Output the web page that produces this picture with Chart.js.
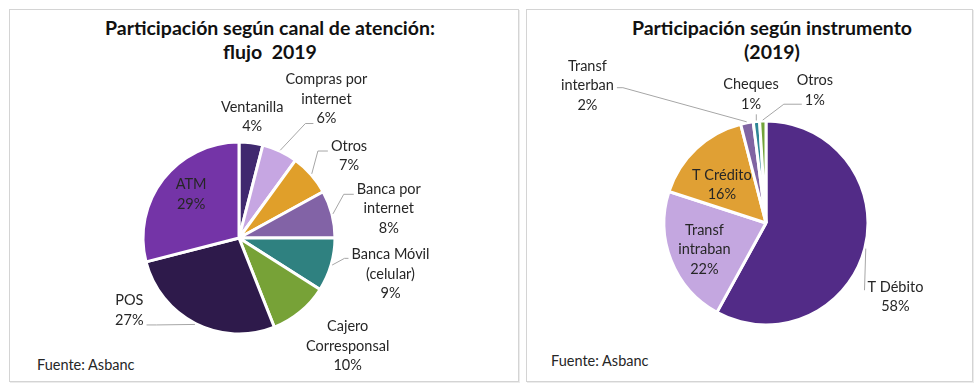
<!DOCTYPE html>
<html>
<head>
<meta charset="utf-8">
<script src="https://cdn.jsdelivr.net/npm/chart.js@4/dist/chart.umd.min.js"></script>
<style>
  body { margin: 0; background: #fff; width: 980px; height: 391px; position: relative; overflow: hidden; font-family: Lato, "Noto Sans", sans-serif; color: #262626; }
  .box { position: absolute; border: 1px solid #d4d4d4; box-shadow: 1px 1px 0 #ececec; }
  .title { position: absolute; width: 440px; text-align: center; font-weight: bold; font-size: 19.5px; line-height: 24px; color: #111; }
  .src { position: absolute; font-size: 14.5px; line-height: 18px; color: #262626; }
  canvas { position: absolute; }
</style>
</head>
<body>
<div class="box" style="left:9px; top:9px; width:508px; height:371px;"></div>
<div class="box" style="left:526px; top:9px; width:445px; height:371px;"></div>

<div class="title" style="left:50px; top:16px;">Participación según canal de atención:<br>flujo&nbsp; 2019</div>
<div class="title" style="left:552px; top:16px;">Participación según instrumento<br>(2019)</div>
<div class="src" style="left:37px; top:356px;">Fuente: Asbanc</div>
<div class="src" style="left:551px; top:352px;">Fuente: Asbanc</div>

<div style="position:absolute; left:10px; top:10px; width:508px; height:370px;"><canvas id="canal"></canvas></div>
<div style="position:absolute; left:527px; top:10px; width:445px; height:370px;"><canvas id="instr"></canvas></div>

<script>
// participación según canal de atención (flujo 2019), en %
var canales = ['Ventanilla', 'Compras por\ninternet', 'Otros', 'Banca por\ninternet', 'Banca Móvil\n(celular)', 'Cajero\nCorresponsal', 'POS', 'ATM'];
var canalValores = [4, 6, 7, 8, 9, 10, 27, 29];
var canalColores = ['#40296f', '#c6a6e2', '#e09f2a', '#8263a6', '#2f8180', '#77a237', '#2e1a4b', '#7434a7'];

// participación según instrumento (2019), en %
var instrumentos = ['T Débito', 'Transf\nintraban', 'T Crédito', 'Transf\ninterban', 'Cheques', 'Otros'];
var instrValores = [58, 22, 16, 2, 1, 1];
var instrColores = ['#522b87', '#c4a7e0', '#e0a034', '#8064a2', '#2e8596', '#73a33a'];

// ubicación de etiquetas: f = distancia (x radio) sobre el ángulo medio, dx/dy ajuste
var canalEtiquetas = [
  { f: 1.26, dx: -2, dy: -1 },
  { f: 1.6, dx: 22, dy: 0, leader: { side: 'left', line: 2, yOff: 5, elbow: 8 } },
  { f: 1.5, dx: 2, dy: 13, leader: { side: 'left', line: 0, yOff: 5, elbow: 10 } },
  { f: 1.6, dx: 1, dy: 9, leader: { side: 'left', line: 0, yOff: 5, elbow: 10 } },
  { f: 1.6, dx: 4, dy: -7, leader: { side: 'left', line: 0, yOff: 4, elbow: 4 } },
  { f: 1.4, dx: 23, dy: 4.5 },
  { f: 1.3, dx: -53, dy: -39, leader: { side: 'right', line: 1, yOff: 5, elbow: 10 } },
  { f: 0.67, dx: 3, dy: -4 }
];
var instrEtiquetas = [
  { f: 1.3, dx: 1, dy: 41, leader: { side: 'left', line: 0, yOff: 3, elbow: 0 } },
  { f: 0.66, dx: 1, dy: 2 },
  { f: 0.575, dx: -4, dy: 4.5 },
  { f: 1.6, dx: -148, dy: 23, leader: { side: 'right', line: 1, yOff: 2, elbow: 6 } },
  { f: 1.25, dx: -3, dy: -1.5, leader: { side: 'bottom' } },
  { f: 1.3, dx: 53, dy: 0, leader: { side: 'left', line: 1, yOff: 4, elbow: 18 } }
];

var LINE_H = 19.5;

var etiquetasPlugin = {
  id: 'etiquetas',
  afterDatasetsDraw: function(chart, args, opts) {
    var ctx = chart.ctx;
    var meta = chart.getDatasetMeta(0);
    var labels = chart.data.labels;
    var data = chart.data.datasets[0].data;
    ctx.save();
    ctx.font = '14.5px Lato, "Noto Sans", sans-serif';
    ctx.textAlign = 'center';
    ctx.textBaseline = 'middle';
    meta.data.forEach(function(arc, i) {
      var p = arc.getProps(['x', 'y', 'startAngle', 'endAngle', 'outerRadius'], true);
      var mid = (p.startAngle + p.endAngle) / 2;
      var pos = opts.pos[i];
      var lines = labels[i].split('\n').concat([data[i] + '%']);
      var cx = p.x + Math.cos(mid) * p.outerRadius * pos.f + pos.dx;
      var cy = p.y + Math.sin(mid) * p.outerRadius * pos.f + pos.dy;
      var top = cy - (lines.length - 1) * LINE_H / 2;

      if (pos.leader) {
        var L = pos.leader;
        var sx = p.x + Math.cos(mid) * (p.outerRadius + 1);
        var sy = p.y + Math.sin(mid) * (p.outerRadius + 1);
        var ex, ey, bx, by;
        if (L.side === 'bottom') {
          ex = sx; ey = top + (lines.length - 1) * LINE_H + 10;
          bx = ex; by = ey;
        } else {
          var w = ctx.measureText(lines[L.line]).width;
          ey = top + L.line * LINE_H + L.yOff;
          if (L.side === 'left') { ex = cx - w / 2 - 3; bx = ex - L.elbow; }
          else { ex = cx + w / 2 + 3; bx = ex + L.elbow; }
          by = ey;
        }
        ctx.strokeStyle = '#a6a6a6';
        ctx.lineWidth = 1;
        ctx.beginPath();
        ctx.moveTo(sx, sy);
        ctx.lineTo(bx, by);
        ctx.lineTo(ex, ey);
        ctx.stroke();
      }

      ctx.fillStyle = '#262626';
      lines.forEach(function(t, k) {
        ctx.fillText(t, cx, top + k * LINE_H);
      });
    });
    ctx.restore();
  }
};

function pie(id, labels, values, colors, pos, radius, padding) {
  return new Chart(document.getElementById(id), {
    type: 'pie',
    data: {
      labels: labels,
      datasets: [{
        data: values,
        backgroundColor: colors,
        borderColor: '#ffffff',
        borderWidth: 3,
        radius: radius
      }]
    },
    options: {
      responsive: true,
      maintainAspectRatio: false,
      animation: false,
      layout: { padding: padding },
      plugins: {
        legend: { display: false },
        tooltip: { enabled: false },
        etiquetas: { pos: pos }
      }
    },
    plugins: [etiquetasPlugin]
  });
}

pie('canal', canales, canalValores, canalColores, canalEtiquetas, 96,
    { left: 119, right: 169, top: 118, bottom: 32 });
pie('instr', instrumentos, instrValores, instrColores, instrEtiquetas, 102,
    { left: 129, right: 96, top: 103, bottom: 47 });
</script>
</body>
</html>
